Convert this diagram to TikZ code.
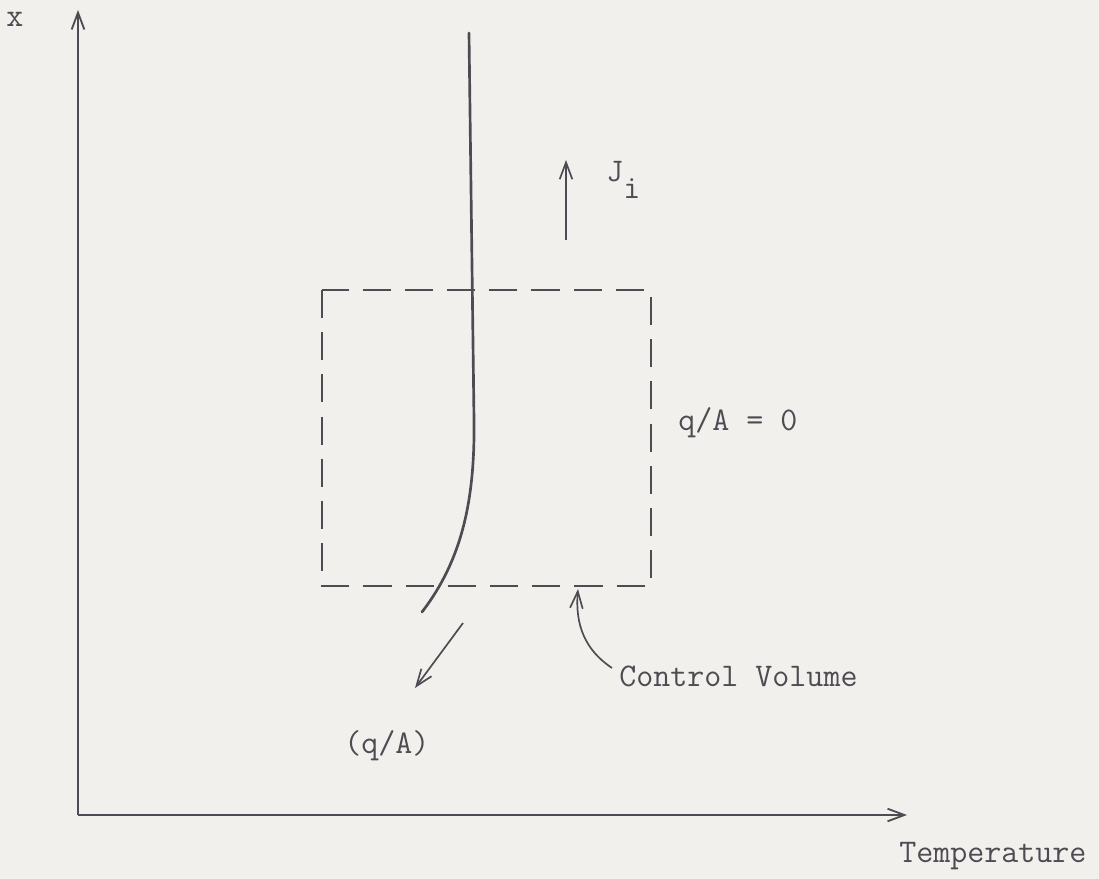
\documentclass[tikz,border=0pt]{standalone}
\usetikzlibrary{arrows.meta}
\definecolor{paper}{HTML}{F2F0ED}
\definecolor{ink}{HTML}{4E4C52}
\tikzset{
  every picture/.style={>={Straight Barb[length=12pt,width=9pt]},
    font=\ttfamily\fontsize{23.5}{27}\selectfont},
  axis/.style={ink, line width=1.3pt, ->},
  cvbox/.style={ink, line width=1.3pt, dash pattern=on 20pt off 10pt},
  profile/.style={ink, line width=1.9pt, line cap=round},
  flux/.style={ink, line width=1.2pt, ->},
  lbl/.style={text=ink, inner sep=0pt, anchor=base west},
}
% one unit = one pixel of the sheet, y downwards
\def\px{0.025cm}

\begin{document}
\begin{tikzpicture}[x=\px, y=-\px]
  \fill[paper] (0,0) rectangle (1099,879);
  % axes
  \coordinate (O) at (78,815);
  \coordinate (ytop) at (78,10);
  \coordinate (xend) at (907,815);
  \draw[axis] (O) -- (ytop);
  \draw[axis] (O) -- (xend);
  \node[lbl] (xlab) at (6,27) {x};
  \node[lbl] (tlab) at (899,862) {Temperature};
  % control volume
  \coordinate (cvA) at (322,290);
  \coordinate (cvB) at (651,586);
  \draw[cvbox] (cvA) rectangle (cvB);
  \node[lbl] (zlab) at (678,430) {q/A = 0};
  % temperature profile
  \draw[profile] (469,33) -- (474,420)
    .. controls (475,500) and (462,560) .. (422,612);
  % fluxes
  \coordinate (js) at (566,240);
  \coordinate (je) at (566,160);
  \draw[flux] (js) -- (je);
  \node[lbl] (jlab) at (606,182) {J\raisebox{-12pt}{i}};
  \coordinate (qs) at (463,623);
  \coordinate (qe) at (415,688);
  \draw[flux] (qs) -- (qe);
  \node[lbl] (qlab) at (344,753) {(q/A)};
  \node[lbl] (cvlab) at (619,686) {Control Volume};
  \coordinate (cvtip) at (578,589);
  \draw[flux] ([shift={(-7,-18)}]cvlab.base west)
    .. controls (585,650) and (575,625) .. (cvtip);
\end{tikzpicture}
\end{document}
